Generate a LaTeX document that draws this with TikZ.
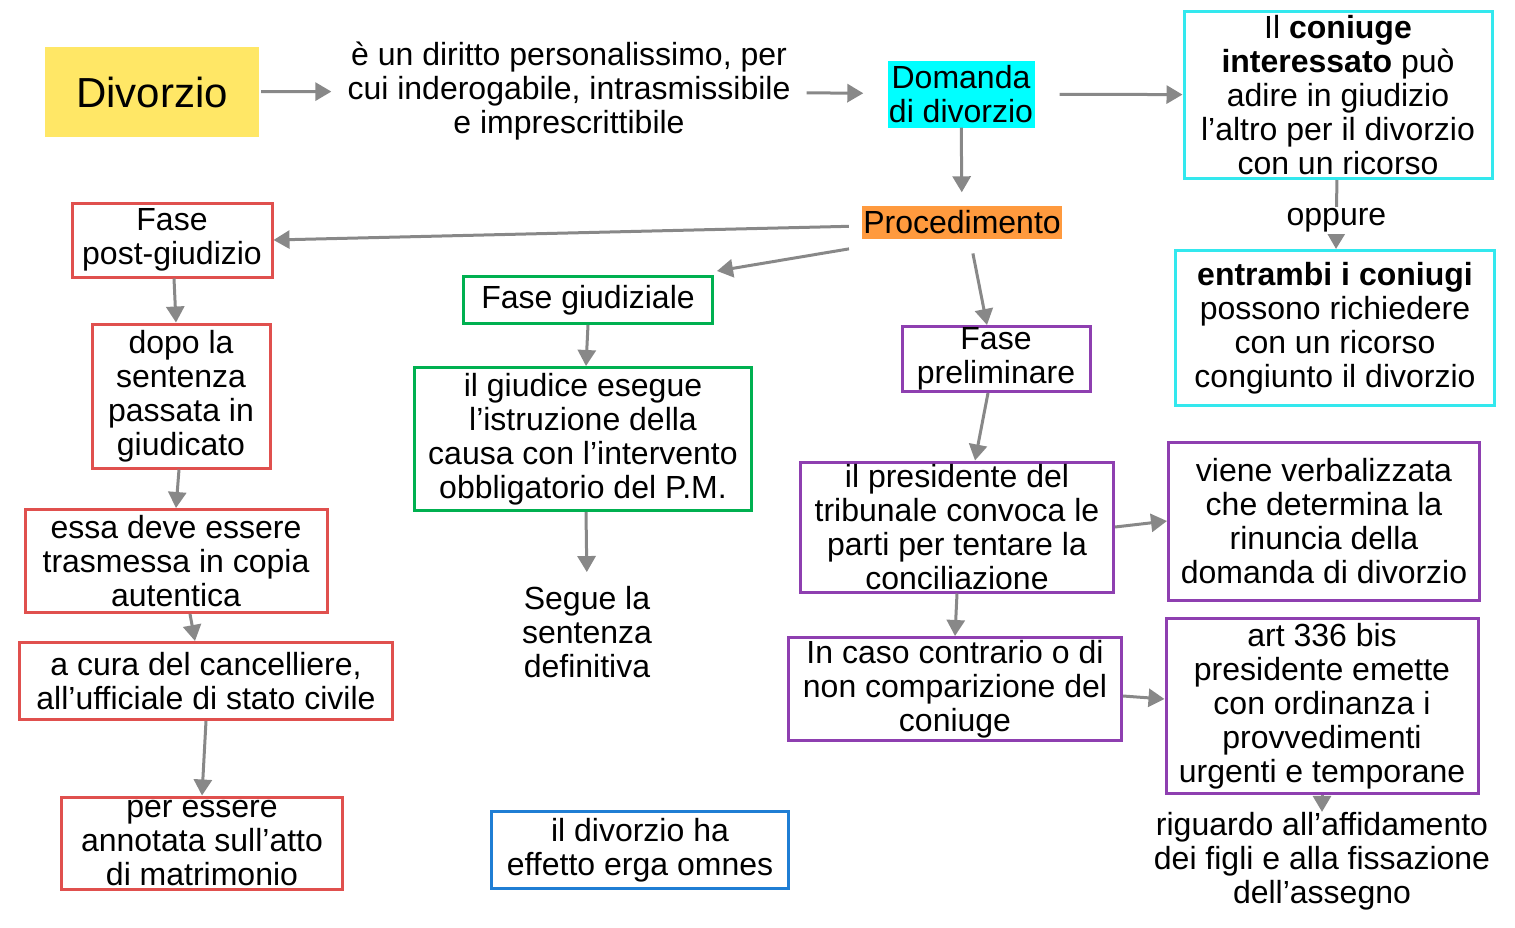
\documentclass[tikz,border=0pt]{standalone}
\usepackage{fontspec}
\setmainfont{Liberation Sans}
\usetikzlibrary{arrows.meta}
\definecolor{giallo}{HTML}{FFE766}
\definecolor{ciano}{HTML}{00FFFF}
\definecolor{arancio}{HTML}{FF9A3E}
\definecolor{rosso}{HTML}{E0504E}
\definecolor{verde}{HTML}{00B050}
\definecolor{viola}{HTML}{8E3FB0}
\definecolor{azzurro}{HTML}{33E8EE}
\definecolor{blu}{HTML}{1F7ED4}
\definecolor{freccia}{HTML}{888888}

\tikzset{
  mappa/.style={
    x=1pt, y=-1pt,
    every node/.style={font=\fontsize{32}{34}\selectfont, align=center, inner sep=0pt},
    box/.style={draw, line width=3pt, inner ysep=-12pt},
    red box/.style={box, draw=rosso},
    green box/.style={box, draw=verde},
    purple box/.style={box, draw=viola},
    cyan box/.style={box, draw=azzurro},
    blue box/.style={box, draw=blu},
    arr/.style={draw=freccia, line width=3pt, -{Triangle[length=16pt,width=18pt]}},
  }
}

\begin{document}
\begin{tikzpicture}[mappa]
  \useasboundingbox (0,0) rectangle (1515,927);

  \node[fill=giallo, minimum width=214pt, minimum height=90pt, font=\fontsize{42}{44}\selectfont] (div) at (152,92) {Divorzio};
  \node (diritto) at (569,91) {è un diritto personalissimo, per\\cui inderogabile, intrasmissibile\\e imprescrittibile};
  \node[fill=ciano, minimum width=147pt, minimum height=67pt] (domanda) at (961,94) {Domanda\\di divorzio};
  \node[cyan box, minimum width=308pt, minimum height=167pt] (coniuge) at (1338,95) {Il \textbf{coniuge}\\\textbf{interessato} può\\adire in giudizio\\l’altro per il divorzio\\con un ricorso};
  \node[cyan box, minimum width=319pt, minimum height=155pt] (entrambi) at (1335,328) {\textbf{entrambi i coniugi}\\possono richiedere\\con un ricorso\\congiunto il divorzio};
  \node[fill=arancio, minimum width=200pt, minimum height=33pt] (proc) at (962,222) {Procedimento};

  \node[red box, minimum width=200pt, minimum height=74pt] (post) at (172,240) {Fase\\post-giudizio};
  \node[red box, minimum width=178pt, minimum height=144pt] (dopo) at (181,396) {dopo la\\sentenza\\passata in\\giudicato};
  \node[red box, minimum width=302pt, minimum height=103pt] (essa) at (176,561) {essa deve essere\\trasmessa in copia\\autentica};
  \node[red box, minimum width=373pt, minimum height=77pt] (cura) at (206,681) {a cura del cancelliere,\\all’ufficiale di stato civile};
  \node[red box, minimum width=281pt, minimum height=92pt] (annot) at (202,843) {per essere\\annotata sull’atto\\di matrimonio};

  \node[green box, minimum width=249pt, minimum height=47pt] (giud) at (588,300) {Fase giudiziale};
  \node[green box, minimum width=337pt, minimum height=143pt] (giudice) at (583,439) {il giudice esegue\\l’istruzione della\\causa con l’intervento\\obbligatorio del P.M.};
  \node (segue) at (587,632) {Segue la\\sentenza\\definitiva};
  \node[blue box, minimum width=297pt, minimum height=77pt] (erga) at (640,850) {il divorzio ha\\effetto erga omnes};

  \node[purple box, minimum width=188pt, minimum height=65pt] (prel) at (996,359) {Fase\\preliminare};
  \node[purple box, minimum width=313pt, minimum height=130pt] (pres) at (957,527) {il presidente del\\tribunale convoca le\\parti per tentare la\\conciliazione};
  \node[purple box, minimum width=311pt, minimum height=158pt] (viene) at (1324,521) {viene verbalizzata\\che determina la\\rinuncia della\\domanda di divorzio};
  \node[purple box, minimum width=333pt, minimum height=103pt] (caso) at (955,689) {In caso contrario o di\\non comparizione del\\coniuge};
  \node[purple box, minimum width=312pt, minimum height=175pt] (art) at (1322,706) {art 336 bis\\presidente emette\\con ordinanza i\\provvedimenti\\urgenti e temporane};
  \node (rig) at (1322,861) {riguardo all’affidamento\\dei figli e alla fissazione\\dell’assegno};

  \draw[arr, shorten <=2pt, shorten >=16pt] (div) -- (diritto);
  \draw[arr, shorten <=16pt, shorten >=24pt] (diritto) -- (domanda);
  \draw[arr, shorten <=25pt] (domanda) -- (coniuge);
  \draw[arr, shorten >=13pt] (domanda) -- (proc);
  \draw[arr] (coniuge) -- node[fill=white, inner sep=2pt, yshift=-6pt] {oppure} (entrambi);
  \draw[arr, shorten <=13pt] ([yshift=-4pt]proc.west) -- (post.east);
  \draw[arr, shorten <=13pt] ([yshift=-8pt]proc.south west) -- ([xshift=3pt,yshift=4pt]giud.north east);
  \draw[arr, shorten <=15pt] ([xshift=8pt]proc.south) -- ([xshift=-9pt]prel.north);
  \draw[arr] ([xshift=2pt]post.south) -- ([xshift=-5pt]dopo.north);
  \draw[arr] ([xshift=-2pt]dopo.south) -- (essa.north);
  \draw[arr] ([xshift=14pt]essa.south) -- ([xshift=-11pt]cura.north);
  \draw[arr] (cura.south) -- (annot.north);
  \draw[arr] (giud.south) -- ([xshift=3pt]giudice.north);
  \draw[arr, shorten >=14pt] ([xshift=3pt]giudice.south) -- (segue.north);
  \draw[arr] ([xshift=-8pt]prel.south) -- ([xshift=18pt]pres.north);
  \draw[arr] (pres.east) -- (viene.west);
  \draw[arr] (pres.south) -- (caso.north);
  \draw[arr] ([yshift=-7pt]caso.east) -- ([yshift=7pt]art.west);
  \draw[arr] (art.south) -- (rig.north);
\end{tikzpicture}
\end{document}
